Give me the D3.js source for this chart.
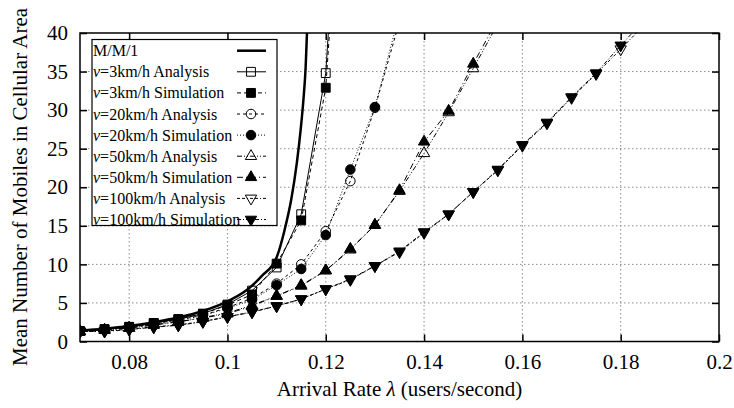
<!DOCTYPE html>
<html>
<head>
<meta charset="utf-8">
<script src="https://cdn.jsdelivr.net/npm/d3@7"></script>
<style>
  body { margin: 0; background: #fff; }
  text { font-family: "Liberation Serif", "DejaVu Serif", serif; fill: #000; }
</style>
</head>
<body>
<div class="main"></div>
<script>
// arrival rates where the points were computed / simulated
var lambda = [0.07, 0.075, 0.08, 0.085, 0.09, 0.095, 0.1, 0.105, 0.11, 0.115, 0.12, 0.125,
    0.13, 0.135, 0.14, 0.145, 0.15, 0.155, 0.16, 0.165, 0.17, 0.175, 0.18, 0.185];

// M/M/1 curve
var mmLambda = [0.07, 0.075, 0.08, 0.085, 0.09, 0.095, 0.1, 0.104, 0.107, 0.11, 0.1116, 0.113,
    0.1141, 0.1149, 0.1155, 0.1159, 0.1162, 0.1166];
var mmValue = [1.4, 1.65, 2.0, 2.5, 3.1, 3.95, 5.2, 6.7, 8.5, 10.9, 14.4, 18.5,
    23.1, 27.5, 31.7, 35.5, 40.4, 46];

var v3An = [1.35, 1.6, 1.9, 2.4, 2.9, 3.6, 4.8, 6.6, 9.6, 16.5, 34.8, 85];
var v3Sim = [1.35, 1.6, 1.9, 2.4, 2.9, 3.6, 4.7, 6.1, 10.1, 15.7, 32.9, 80];
var v20An = [1.35, 1.55, 1.85, 2.3, 2.8, 3.4, 4.4, 5.6, 7.5, 10.0, 14.3, 20.8, 30.3, 41.5];
var v20Sim = [1.35, 1.55, 1.85, 2.3, 2.75, 3.35, 4.3, 5.4, 7.3, 9.4, 13.8, 22.3, 30.4, 42.5];
var v50An = [1.3, 1.5, 1.75, 2.15, 2.55, 3.1, 3.7, 4.7, 5.9, 7.2, 9.2, 11.9, 15.1, 19.5, 24.4,
    29.7, 35.4, 41.2];
var v50Sim = [1.3, 1.5, 1.75, 2.15, 2.55, 3.05, 3.6, 4.6, 5.9, 7.3, 9.2, 12.0, 15.1, 19.6, 25.9,
    29.9, 36.0, 41.8];
var v100An = [1.3, 1.35, 1.6, 1.9, 2.15, 2.6, 3.2, 3.85, 4.6, 5.5, 6.8, 8.0, 9.8, 11.6, 14.1,
    16.5, 19.4, 22.2, 25.4, 28.3, 31.6, 34.7, 37.9, 41.2];
var v100Sim = [1.3, 1.3, 1.55, 1.85, 2.1, 2.55, 3.2, 3.8, 4.6, 5.5, 6.8, 8.1, 9.8, 11.7, 14.2,
    16.5, 19.4, 22.3, 25.5, 28.4, 31.7, 34.8, 38.4, 41.8];

var xTicks = [0.08, 0.1, 0.12, 0.14, 0.16, 0.18, 0.2];
var yTicks = [0, 5, 10, 15, 20, 25, 30, 35, 40];

var series = [
    { speed: '3km/h', kind: 'Analysis', values: v3An, shape: 'square', fill: false, dash: null },
    { speed: '3km/h', kind: 'Simulation', values: v3Sim, shape: 'square', fill: true, dash: '4,3' },
    { speed: '20km/h', kind: 'Analysis', values: v20An, shape: 'circle', fill: false, dash: '3,3' },
    { speed: '20km/h', kind: 'Simulation', values: v20Sim, shape: 'circle', fill: true, dash: '1,2' },
    { speed: '50km/h', kind: 'Analysis', values: v50An, shape: 'up', fill: false, dash: '5,2,1,2,1,2' },
    { speed: '50km/h', kind: 'Simulation', values: v50Sim, shape: 'up', fill: true, dash: '6,3,1,3' },
    { speed: '100km/h', kind: 'Analysis', values: v100An, shape: 'down', fill: false, dash: '3,2,3,2,1,2' },
    { speed: '100km/h', kind: 'Simulation', values: v100Sim, shape: 'down', fill: true, dash: '4,2,1,2' }
];

var W = 734, H = 408;
var pLeft = 80, pRight = 719, pTop = 33, pBottom = 341.5;

var svg = d3.select('.main')
    .append('svg')
    .attr('width', W)
    .attr('height', H);

var x = d3.scaleLinear().domain([0.07, 0.2]).range([pLeft, pRight]);
var y = d3.scaleLinear().domain([0, 40]).range([pBottom, pTop]);

svg.append('clipPath')
    .attr('id', 'plotclip')
    .append('rect')
    .attr('x', pLeft)
    .attr('y', pTop)
    .attr('width', pRight - pLeft)
    .attr('height', pBottom - pTop);

// grid
var grid = svg.append('g');
grid.selectAll('.gx')
    .data(xTicks.slice(0, -1))
    .enter()
    .append('line')
    .attr('x1', function (d) { return x(d); })
    .attr('x2', function (d) { return x(d); })
    .attr('y1', pTop)
    .attr('y2', pBottom)
    .style('stroke', '#8a8a8a')
    .style('stroke-width', 1)
    .style('stroke-dasharray', '1.5,2.5');
grid.selectAll('.gy')
    .data(yTicks.slice(1, -1))
    .enter()
    .append('line')
    .attr('x1', pLeft)
    .attr('x2', pRight)
    .attr('y1', function (d) { return y(d); })
    .attr('y2', function (d) { return y(d); })
    .style('stroke', '#8a8a8a')
    .style('stroke-width', 1)
    .style('stroke-dasharray', '1.5,2.5');

// axes with inward ticks on all four sides
var tickFmt = function (d) { return String(+d.toFixed(2)); };

svg.append('g')
    .attr('transform', 'translate(0,' + pBottom + ')')
    .call(d3.axisBottom(x).tickValues(xTicks).tickSize(-7).tickPadding(13).tickFormat(tickFmt))
    .call(function (g) { g.select('.domain').remove(); });
svg.append('g')
    .attr('transform', 'translate(0,' + pTop + ')')
    .call(d3.axisTop(x).tickValues(xTicks).tickSize(-7).tickFormat(''))
    .call(function (g) { g.select('.domain').remove(); });
svg.append('g')
    .attr('transform', 'translate(' + pLeft + ',0)')
    .call(d3.axisLeft(y).tickValues(yTicks).tickSize(-7).tickPadding(12))
    .call(function (g) { g.select('.domain').remove(); });
svg.append('g')
    .attr('transform', 'translate(' + pRight + ',0)')
    .call(d3.axisRight(y).tickValues(yTicks).tickSize(-7).tickFormat(''))
    .call(function (g) { g.select('.domain').remove(); });

svg.selectAll('.tick line')
    .style('stroke', '#000')
    .style('stroke-width', 1.5);
svg.selectAll('.tick text')
    .style('font-family', '"Liberation Serif", serif')
    .style('font-size', '21px')
    .style('fill', '#000');

// data
var plot = svg.append('g').attr('clip-path', 'url(#plotclip)');

var mmLine = d3.line()
    .x(function (d, i) { return x(mmLambda[i]); })
    .y(function (d) { return y(d); })
    .curve(d3.curveMonotoneX);

plot.append('path')
    .attr('d', mmLine(mmValue))
    .style('fill', 'none')
    .style('stroke', '#000')
    .style('stroke-width', 2.5);

var seriesLine = d3.line()
    .x(function (d, i) { return x(lambda[i]); })
    .y(function (d) { return y(d); });

function symbolPath(shape) {
    if (shape === 'square') return d3.symbol().type(d3.symbolSquare).size(78)();
    if (shape === 'circle') return d3.symbol().type(d3.symbolCircle).size(72)();
    return d3.symbol().type(d3.symbolTriangle).size(56)();
}

function drawMarker(g, s) {
    return g.append('path')
        .attr('d', symbolPath(s.shape))
        .attr('transform', s.shape === 'down' ? 'rotate(180)' : null)
        .style('fill', s.fill ? '#000' : 'none')
        .style('stroke', '#000')
        .style('stroke-width', 1);
}

series.forEach(function (s) {
    plot.append('path')
        .attr('d', seriesLine(s.values))
        .style('fill', 'none')
        .style('stroke', '#000')
        .style('stroke-width', 1)
        .style('stroke-dasharray', s.dash);

    plot.selectAll(null)
        .data(s.values)
        .enter()
        .append('g')
        .attr('transform', function (d, i) { return 'translate(' + [x(lambda[i]), y(d)] + ')'; })
        .each(function () { drawMarker(d3.select(this), s); });
});

// frame
svg.append('rect')
    .attr('x', pLeft)
    .attr('y', pTop)
    .attr('width', pRight - pLeft)
    .attr('height', pBottom - pTop)
    .style('fill', 'none')
    .style('stroke', '#000')
    .style('stroke-width', 1.5);

// legend
var legend = svg.append('g');
legend.append('rect')
    .attr('x', 92)
    .attr('y', 39.5)
    .attr('width', 185)
    .attr('height', 186)
    .style('fill', '#fff')
    .style('stroke', '#000')
    .style('stroke-width', 1.2);

var rowY = function (i) { return 50.7 + i * 21.1; };

legend.append('text')
    .attr('x', 93)
    .attr('y', rowY(0) + 5.5)
    .style('font-size', '16px')
    .text('M/M/1');
legend.append('line')
    .attr('x1', 237).attr('x2', 266)
    .attr('y1', rowY(0)).attr('y2', rowY(0))
    .style('stroke', '#000')
    .style('stroke-width', 2.5);

series.forEach(function (s, i) {
    var yy = rowY(i + 1);
    var t = legend.append('text')
        .attr('x', 93)
        .attr('y', yy + 5.5)
        .style('font-size', '16px');
    t.append('tspan').style('font-style', 'italic').text('ν');
    t.append('tspan').text('=' + s.speed + ' ' + s.kind);

    legend.append('line')
        .attr('x1', 237).attr('x2', 266)
        .attr('y1', yy).attr('y2', yy)
        .style('stroke', '#000')
        .style('stroke-width', 1)
        .style('stroke-dasharray', s.dash);
    var m = legend.append('g').attr('transform', 'translate(' + [251, yy] + ')');
    drawMarker(m, s);
});

// axis titles
var xt = svg.append('text')
    .attr('x', (pLeft + pRight) / 2)
    .attr('y', 396)
    .attr('text-anchor', 'middle')
    .style('font-size', '21px');
xt.append('tspan').text('Arrival Rate ');
xt.append('tspan').style('font-style', 'italic').text('λ');
xt.append('tspan').text(' (users/second)');

svg.append('text')
    .attr('transform', 'translate(27,' + 187 + ') rotate(-90)')
    .attr('text-anchor', 'middle')
    .style('font-size', '21px')
    .text('Mean Number of Mobiles in Cellular Area');
</script>
</body>
</html>
